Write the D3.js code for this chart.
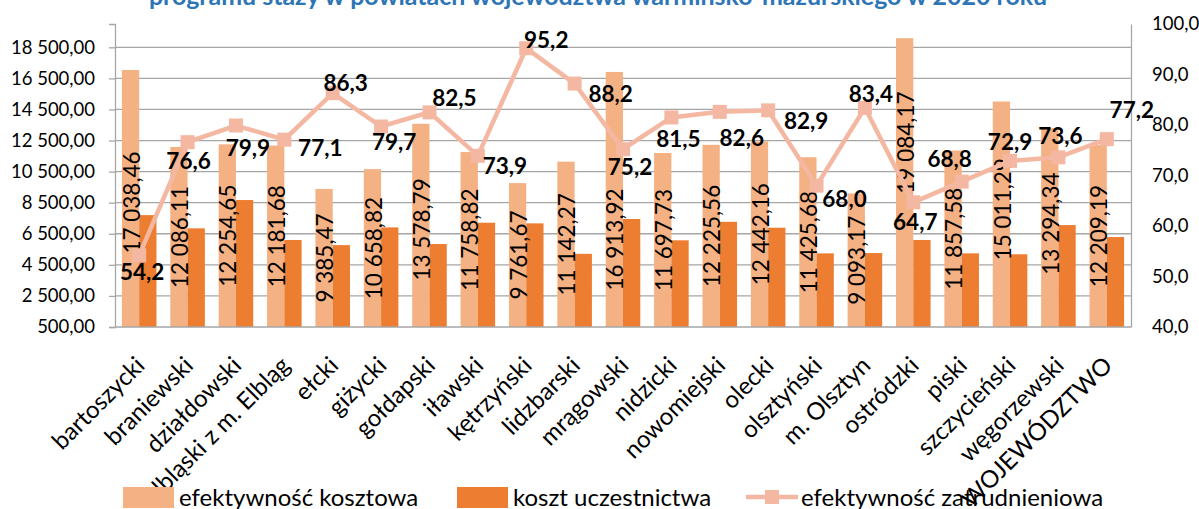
<!DOCTYPE html>
<html>
<head>
<meta charset="utf-8">
<script src="https://cdn.jsdelivr.net/npm/d3@7"></script>
<style>
	body { margin: 0; background: #fff; }
	svg { display: block; font-family: Lato, 'Open Sans', sans-serif; }
</style>
</head>
<body>
<svg id="chart"></svg>
<script>
var categories = ['bartoszycki', 'braniewski', 'działdowski', 'elbląski z m. Elbląg', 'ełcki', 'giżycki',
	'gołdapski', 'iławski', 'kętrzyński', 'lidzbarski', 'mrągowski', 'nidzicki', 'nowomiejski', 'olecki',
	'olsztyński', 'm. Olsztyn', 'ostródzki', 'piski', 'szczycieński', 'węgorzewski', 'WOJEWÓDZTWO'];

var efektywnoscKosztowa = [17038.46, 12086.11, 12254.65, 12181.68, 9385.47, 10658.82, 13578.79, 11758.82,
	9761.67, 11142.27, 16913.92, 11697.73, 12225.56, 12442.16, 11425.68, 9093.17, 19084.17, 11857.58,
	15011.29, 13294.34, 12209.19];

var kosztUczestnictwa = [7700, 6850, 8670, 6100, 5770, 6910, 5840, 7210, 7170, 5210, 7450, 6080, 7270,
	6890, 5240, 5260, 6100, 5240, 5180, 7060, 6290];

var efektywnoscZatrudnieniowa = [54.2, 76.6, 79.9, 77.1, 86.3, 79.7, 82.5, 73.9, 95.2, 88.2, 75.2, 81.5,
	82.6, 82.9, 68.0, 83.4, 64.7, 68.8, 72.9, 73.6, 77.2];

var leftTicks = [500, 2500, 4500, 6500, 8500, 10500, 12500, 14500, 16500, 18500];
var rightTicks = [40, 50, 60, 70, 80, 90, 100];

var seriesNames = ['efektywność kosztowa', 'koszt uczestnictwa', 'efektywność zatrudnieniowa'];
var title = 'programu staży w powiatach województwa warmińsko-mazurskiego w 2020 roku';

// label offsets from the marker (dx, dy), as placed in the original
var lineLabelOffset = [[3, 17], [1, 19], [12, 22], [36, 8], [13, -10], [13, 15], [25, -14], [27, 10],
	[20, -8], [36, 10], [7, 18], [7, 21], [22, 26], [38, 11], [28, 13], [6, -14], [2, 20], [-12, -23],
	[0, -19], [2, -21], [25, -29]];

// bar labels sit in the middle of the bar, two were moved by hand in the original
var barLabelShift = [4, 0, 0, 0, 0, 0, 4, 0, 0, 0, 40, 0, 0, 0, 0, 0, -40, 0, -5, -4, 0];

var width = 1199,
    height = 509;

var plot = {left: 115, right: 1131, top: 24, bottom: 327};

var lightColor = '#F4B183',
    darkColor = '#ED7D31',
    lineColor = '#F4B8A2',
    gridColor = '#A6A6A6';

var fmt = function(v, dec) {
	var s = v.toFixed(dec).split('.');
	var int = s[0].replace(/\B(?=(\d{3})+(?!\d))/g, '\u00a0');
	return int + ',' + s[1];
}

var svg = d3.select('#chart')
	.attr('width', width)
	.attr('height', height);

svg.append('rect')
	.attr('width', width)
	.attr('height', height)
	.attr('fill', '#fff');

var x = d3.scaleBand()
	.domain(categories)
	.range([plot.left, plot.right])
	.paddingInner(0)
	.paddingOuter(0);

var yLeft = d3.scaleLinear()
	.domain([500, 20000])
	.range([plot.bottom, plot.top]);

var yRight = d3.scaleLinear()
	.domain([40, 100])
	.range([plot.bottom, plot.top]);

var barW = x.bandwidth() / 2.8;

// gridlines
svg.append('g')
	.selectAll('line')
	.data(leftTicks.slice(1))
	.enter()
	.append('line')
	.attr('x1', plot.left)
	.attr('x2', plot.right)
	.attr('y1', d => yLeft(d))
	.attr('y2', d => yLeft(d))
	.attr('stroke', gridColor)
	.attr('stroke-width', 1.3);

// left axis
var leftAxis = svg.append('g')
	.attr('transform', `translate(${plot.left},0)`)
	.call(d3.axisLeft(yLeft).tickValues(leftTicks).tickSize(6).tickFormat(d => fmt(d, 2)));

// right axis
var rightAxis = svg.append('g')
	.attr('transform', `translate(${plot.right},0)`)
	.call(d3.axisRight(yRight).tickValues(rightTicks).tickSize(0).tickFormat(d => fmt(d, 1)));

[leftAxis, rightAxis].forEach(function(a) {
	a.select('.domain').attr('stroke', gridColor).attr('stroke-width', 1.3);
	a.selectAll('.tick line').attr('stroke', gridColor).attr('stroke-width', 1.3);
	a.selectAll('.tick text')
		.attr('fill', '#000')
		.style('font-size', '18.5px')
		.style('font-family', 'Lato, sans-serif');
});
leftAxis.selectAll('.tick text').attr('x', -20);
rightAxis.selectAll('.tick text').attr('x', 21);

// bars
var bars = svg.append('g');

bars.selectAll('.light')
	.data(efektywnoscKosztowa)
	.enter()
	.append('rect')
	.attr('class', 'light')
	.attr('x', (d, i) => x(categories[i]) + x.bandwidth() / 2 - barW)
	.attr('y', d => yLeft(d))
	.attr('width', barW)
	.attr('height', d => plot.bottom - yLeft(d))
	.attr('fill', lightColor);

bars.selectAll('.dark')
	.data(kosztUczestnictwa)
	.enter()
	.append('rect')
	.attr('class', 'dark')
	.attr('x', (d, i) => x(categories[i]) + x.bandwidth() / 2)
	.attr('y', d => yLeft(d))
	.attr('width', barW)
	.attr('height', d => plot.bottom - yLeft(d))
	.attr('fill', darkColor);

// bottom axis line
svg.append('line')
	.attr('x1', plot.left)
	.attr('x2', plot.right)
	.attr('y1', plot.bottom)
	.attr('y2', plot.bottom)
	.attr('stroke', gridColor)
	.attr('stroke-width', 1.3);

// bar value labels
svg.append('g')
	.selectAll('text')
	.data(efektywnoscKosztowa)
	.enter()
	.append('text')
	.attr('transform', (d, i) => {
		var cx = x(categories[i]) + x.bandwidth() / 2 - barW / 2 + 1;
		var cy = (yLeft(d) + plot.bottom) / 2 + barLabelShift[i];
		return `translate(${cx},${cy}) rotate(-90)`;
	})
	.attr('text-anchor', 'middle')
	.attr('dy', '0.36em')
	.style('font-size', '22.5px')
	.text(d => fmt(d, 2));

// line
var line = d3.line()
	.x((d, i) => x(categories[i]) + x.bandwidth() / 2)
	.y(d => yRight(d));

svg.append('path')
	.datum(efektywnoscZatrudnieniowa)
	.attr('d', line)
	.attr('fill', 'none')
	.attr('stroke', lineColor)
	.attr('stroke-width', 4.5);

svg.append('g')
	.selectAll('rect')
	.data(efektywnoscZatrudnieniowa)
	.enter()
	.append('rect')
	.attr('x', (d, i) => x(categories[i]) + x.bandwidth() / 2 - 7)
	.attr('y', d => yRight(d) - 7)
	.attr('width', 14)
	.attr('height', 14)
	.attr('fill', lineColor);

svg.append('g')
	.selectAll('text')
	.data(efektywnoscZatrudnieniowa)
	.enter()
	.append('text')
	.attr('x', (d, i) => x(categories[i]) + x.bandwidth() / 2 + lineLabelOffset[i][0])
	.attr('y', (d, i) => yRight(d) + lineLabelOffset[i][1])
	.attr('text-anchor', 'middle')
	.attr('dy', '0.36em')
	.style('font-size', '22.5px')
	.style('font-weight', 'bold')
	.text(d => fmt(d, 1));

// category labels
svg.append('g')
	.selectAll('text')
	.data(categories)
	.enter()
	.append('text')
	.attr('transform', d => `translate(${x(d) + x.bandwidth() / 2 + 7},${367}) rotate(-45)`)
	.attr('text-anchor', 'end')
	.style('font-size', '24px')
	.text(d => d);

// title, cut by the top edge as in the original
var t = svg.append('text')
	.attr('x', 598)
	.attr('y', 5)
	.attr('text-anchor', 'middle')
	.attr('fill', '#2E75B6')
	.style('font-weight', 'bold')
	.style('font-size', '23px')
	.text(title);
var tw = t.node().getComputedTextLength();
t.style('font-size', (23 * 899 / tw) + 'px');

// legend
var legend = svg.append('g');
var legendItems = [
	{name: seriesNames[0], x: 123, type: 'bar', color: lightColor},
	{name: seriesNames[1], x: 457, type: 'bar', color: darkColor},
	{name: seriesNames[2], x: 746, type: 'line', color: lineColor}
];

var li = legend.selectAll('g')
	.data(legendItems)
	.enter()
	.append('g')
	.attr('transform', d => `translate(${d.x},497)`);

li.filter(d => d.type === 'bar')
	.append('rect')
	.attr('x', 0)
	.attr('y', -10)
	.attr('width', 51)
	.attr('height', 21)
	.attr('fill', d => d.color);

li.filter(d => d.type === 'line')
	.append('line')
	.attr('x1', 0)
	.attr('x2', 52)
	.attr('y1', 0)
	.attr('y2', 0)
	.attr('stroke', d => d.color)
	.attr('stroke-width', 4.5);

li.filter(d => d.type === 'line')
	.append('rect')
	.attr('x', 19)
	.attr('y', -7)
	.attr('width', 14)
	.attr('height', 14)
	.attr('fill', d => d.color);

li.append('text')
	.attr('x', d => d.type === 'bar' ? 56 : 55)
	.attr('y', 0)
	.attr('dy', '0.36em')
	.style('font-size', '24px')
	.text(d => d.name);
</script>
</body>
</html>
